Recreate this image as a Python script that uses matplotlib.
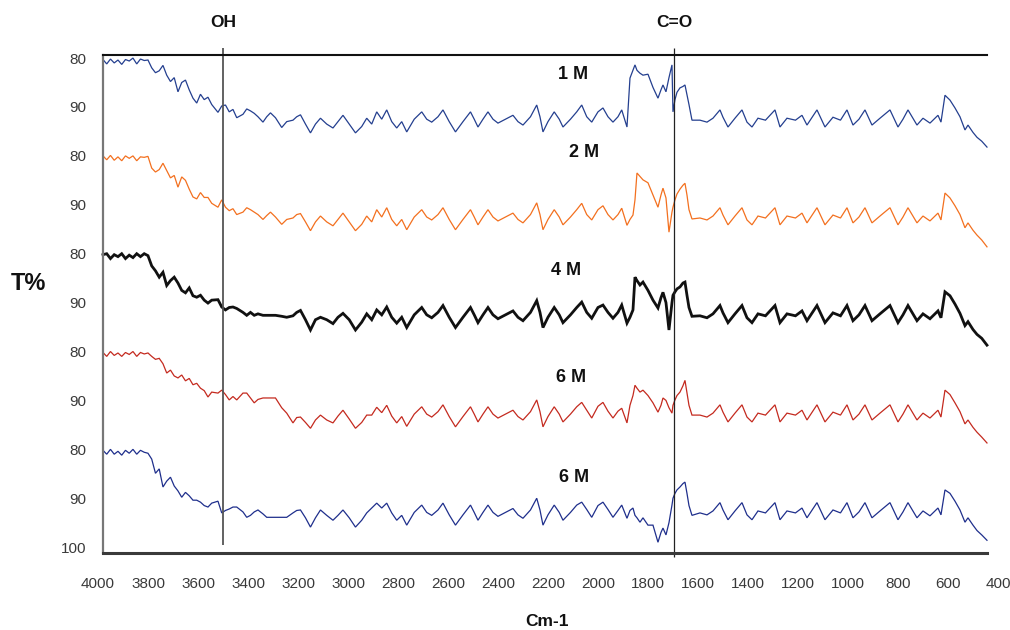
import matplotlib
matplotlib.use("Agg")
import matplotlib.pyplot as plt
import numpy as np

# ---------------- data ----------------
wavenumber = [
    3980, 3965, 3950, 3935, 3920, 3905, 3890, 3875, 3860, 3845,
    3830, 3815, 3800, 3785, 3770, 3755, 3740, 3725, 3710, 3695,
    3680, 3665, 3650, 3635, 3620, 3605, 3590, 3575, 3560, 3545,
    3520, 3505, 3490, 3475, 3460, 3445, 3420, 3405, 3390, 3375,
    3360, 3340, 3325, 3310, 3290, 3265, 3245, 3220, 3205, 3190,
    3170, 3150, 3130, 3110, 3085, 3060, 3040, 3020, 2995, 2970,
    2945, 2925, 2905, 2885, 2865, 2845, 2825, 2805, 2785, 2765,
    2735, 2705, 2685, 2665, 2640, 2620, 2595, 2570, 2540, 2510,
    2495, 2480, 2460, 2440, 2420, 2400, 2370, 2340, 2320, 2300,
    2270, 2245, 2232, 2220, 2200, 2175, 2155, 2140, 2110, 2085,
    2065, 2045, 2025, 2000, 1980, 1960, 1940, 1920, 1905, 1884,
    1872, 1860, 1852, 1844, 1832, 1820, 1800, 1780, 1760, 1748,
    1740, 1728, 1716, 1704, 1700, 1692, 1684, 1672, 1660, 1652,
    1644, 1636, 1624, 1592, 1564, 1540, 1512, 1500, 1480, 1452,
    1424, 1404, 1384, 1360, 1330, 1292, 1272, 1244, 1210, 1184,
    1164, 1124, 1092, 1060, 1030, 1004, 980, 956, 932, 904,
    872, 832, 800, 780, 760, 724, 700, 672, 640, 628,
    612, 592, 572, 552, 532, 520, 500, 484, 465, 444,
]

t_1M = [
    80.3, 81.2, 80.2, 81.0, 80.4, 81.3, 80.3, 80.6, 80.0, 81.2,
    80.2, 80.5, 80.4, 82.0, 83.0, 82.6, 81.5, 83.5, 84.8, 84.0,
    86.9, 85.0, 84.5, 86.5, 88.2, 89.2, 87.4, 88.5, 88.0, 89.5,
    91.1, 89.8, 89.6, 91.0, 90.5, 92.2, 91.5, 90.4, 90.8, 91.3,
    92.0, 93.1, 92.0, 91.2, 92.2, 94.2, 93.0, 92.7, 92.0, 91.6,
    93.5, 95.3, 93.5, 92.3, 93.5, 94.3, 93.0, 91.7, 93.5, 95.3,
    94.0, 92.3, 93.5, 91.0, 92.5, 90.6, 93.0, 94.3, 93.0, 95.1,
    92.5, 91.0, 92.5, 93.1, 92.0, 90.6, 93.0, 95.1, 93.0, 91.0,
    92.5, 94.1, 92.5, 91.0, 92.5, 93.3, 92.5, 91.7, 93.0, 93.7,
    92.0, 89.6, 92.0, 95.1, 93.0, 91.0, 92.5, 94.1, 92.5, 91.0,
    89.6, 92.0, 93.1, 91.0, 90.2, 92.0, 93.1, 92.0, 90.6, 94.1,
    84.1, 82.5, 81.4, 82.5, 83.1, 83.5, 83.3, 86.0, 88.2, 86.5,
    85.5, 86.9, 84.0, 81.4, 91.0, 88.5, 87.0, 86.1, 85.8, 85.5,
    87.5, 89.5, 92.7, 92.7, 93.1, 92.3, 90.6, 92.1, 94.1, 92.3,
    90.6, 93.1, 94.1, 92.3, 92.7, 90.6, 94.1, 92.3, 92.7, 91.7,
    93.7, 90.6, 94.1, 92.1, 92.7, 90.6, 93.7, 92.5, 90.6, 93.7,
    92.3, 90.6, 94.1, 92.5, 90.6, 93.7, 92.3, 93.3, 91.7, 93.1,
    87.6, 88.6, 90.2, 92.0, 94.7, 93.7, 95.2, 96.2, 97.0, 98.2,
]

t_2M = [
    80.0, 80.8, 79.9, 80.9, 80.2, 81.0, 80.0, 80.5, 80.0, 81.0,
    80.2, 80.3, 80.1, 82.5, 83.3, 82.8, 81.5, 83.0, 84.5, 84.0,
    86.4, 84.3, 85.0, 86.8, 88.4, 88.8, 87.5, 88.5, 88.5, 89.7,
    90.5, 89.0, 90.5, 91.2, 90.8, 92.0, 91.5, 90.6, 91.0, 91.5,
    92.0, 93.0, 92.2, 91.5, 92.5, 94.0, 93.0, 92.7, 92.0, 91.8,
    93.5, 95.3, 93.5, 92.3, 93.5, 94.3, 93.0, 91.7, 93.5, 95.3,
    94.0, 92.3, 93.5, 91.0, 92.5, 90.6, 93.0, 94.3, 93.0, 95.1,
    92.5, 91.0, 92.5, 93.1, 92.0, 90.6, 93.0, 95.1, 93.0, 91.0,
    92.5, 94.1, 92.5, 91.0, 92.5, 93.3, 92.5, 91.7, 93.0, 93.7,
    92.0, 89.6, 92.0, 95.1, 93.0, 91.0, 92.5, 94.1, 92.5, 91.0,
    89.7, 92.0, 93.1, 91.0, 90.2, 92.0, 93.1, 92.0, 90.7, 94.2,
    93.0, 92.1, 89.0, 83.5, 84.2, 84.9, 85.5, 88.0, 90.5, 88.0,
    86.6, 88.6, 95.6, 91.5, 90.5, 89.0, 87.8, 86.8, 86.0, 85.6,
    88.0, 91.0, 92.9, 92.7, 93.1, 92.3, 90.6, 92.1, 94.1, 92.3,
    90.6, 93.1, 94.1, 92.3, 92.7, 90.6, 94.1, 92.3, 92.7, 91.7,
    93.7, 90.6, 94.1, 92.1, 92.7, 90.6, 93.7, 92.5, 90.6, 93.7,
    92.3, 90.6, 94.1, 92.5, 90.6, 93.7, 92.3, 93.3, 91.7, 93.1,
    87.6, 88.6, 90.2, 92.0, 94.7, 93.7, 95.2, 96.2, 97.2, 98.6,
]

t_4M = [
    80.2, 80.0, 81.0, 80.2, 80.6, 80.0, 81.0, 80.3, 80.8, 80.0,
    80.6, 80.0, 80.4, 82.5, 83.5, 84.8, 83.8, 86.5, 85.5, 84.8,
    86.0, 87.5, 88.0, 87.0, 88.6, 88.9, 88.5, 89.5, 90.1, 89.5,
    89.4, 90.9, 91.5, 91.0, 90.9, 91.2, 92.0, 92.6, 92.0, 92.6,
    92.3, 92.6, 92.6, 92.6, 92.6, 92.8, 93.0, 92.7, 92.0, 91.6,
    93.5, 95.6, 93.5, 93.0, 93.5, 94.3, 93.0, 92.2, 93.5, 95.6,
    94.0, 92.3, 93.5, 91.5, 92.5, 90.9, 93.0, 94.2, 93.0, 95.1,
    92.5, 91.0, 92.5, 93.1, 92.0, 90.6, 93.0, 95.1, 93.0, 91.0,
    92.5, 94.1, 92.5, 91.0, 92.5, 93.3, 92.5, 91.7, 93.0, 93.7,
    92.0, 89.6, 92.0, 95.1, 93.0, 91.0, 92.5, 94.1, 92.5, 91.0,
    89.9, 92.0, 93.2, 91.0, 90.5, 92.0, 93.2, 92.0, 90.5, 94.2,
    93.0, 91.5, 84.8, 85.5, 86.4, 85.8, 87.5, 89.5, 91.1, 89.0,
    87.9, 90.0, 95.6, 90.0, 88.5, 87.8, 87.2, 86.8, 86.0, 85.8,
    88.5, 91.0, 92.8, 92.7, 93.1, 92.3, 90.6, 92.1, 94.1, 92.3,
    90.6, 93.1, 94.1, 92.3, 92.7, 90.6, 94.1, 92.3, 92.7, 91.7,
    93.7, 90.6, 94.1, 92.1, 92.7, 90.6, 93.7, 92.5, 90.6, 93.7,
    92.3, 90.6, 94.1, 92.5, 90.6, 93.7, 92.3, 93.3, 91.7, 93.1,
    87.8, 88.6, 90.3, 92.2, 94.7, 93.9, 95.5, 96.5, 97.3, 98.7,
]

t_6M_a = [
    80.2, 81.0, 80.0, 80.8, 80.3, 81.0, 80.2, 80.6, 80.0, 81.0,
    80.2, 80.5, 80.3, 81.0, 81.6, 81.4, 82.5, 84.4, 83.8, 85.0,
    85.4, 84.8, 86.0, 85.5, 86.8, 86.5, 87.5, 88.0, 89.3, 88.3,
    88.5, 87.9, 88.8, 89.9, 89.2, 89.9, 88.5, 88.5, 89.5, 90.5,
    89.8, 89.5, 89.5, 89.5, 89.5, 91.5, 92.6, 94.6, 93.5, 93.4,
    94.5, 95.7, 94.0, 93.0, 94.0, 94.6, 93.2, 92.0, 93.8, 95.7,
    94.5, 93.0, 93.0, 91.4, 92.5, 91.0, 93.2, 94.6, 93.3, 95.3,
    92.8, 91.3, 92.8, 93.4, 92.3, 90.9, 93.3, 95.4, 93.3, 91.3,
    92.8, 94.4, 92.8, 91.3, 92.8, 93.6, 92.8, 92.0, 93.3, 94.0,
    92.3, 89.9, 92.3, 95.4, 93.3, 91.3, 92.8, 94.4, 92.8, 91.3,
    90.4, 92.0, 93.6, 91.2, 90.4, 92.2, 93.6, 92.2, 91.6, 94.6,
    91.0, 89.0, 86.9, 87.5, 88.3, 87.9, 89.0, 90.5, 92.4, 91.0,
    89.5, 90.0, 91.5, 92.6, 91.0, 89.9, 89.0, 88.3, 87.0, 85.9,
    88.5, 91.0, 93.0, 93.0, 93.4, 92.6, 90.9, 92.4, 94.4, 92.6,
    90.9, 93.4, 94.4, 92.6, 93.0, 90.9, 94.4, 92.6, 93.0, 92.0,
    94.0, 90.9, 94.4, 92.4, 93.0, 90.9, 94.0, 92.8, 90.9, 94.0,
    92.6, 90.9, 94.4, 92.8, 90.9, 94.0, 92.6, 93.6, 92.0, 93.4,
    87.9, 88.8, 90.5, 92.3, 94.8, 94.0, 95.5, 96.5, 97.5, 98.7,
]

t_6M_b = [
    80.2, 81.0, 80.0, 81.0, 80.4, 81.2, 80.2, 80.8, 80.0, 81.0,
    80.2, 80.6, 80.8, 82.0, 84.9, 84.0, 87.7, 86.5, 85.7, 87.5,
    88.5, 89.8, 88.8, 89.5, 90.4, 90.4, 90.8, 91.5, 91.8, 91.0,
    90.6, 93.0, 92.5, 92.2, 91.8, 91.8, 92.8, 93.9, 93.5, 92.8,
    92.4, 93.2, 93.9, 93.9, 93.9, 93.9, 93.9, 93.0, 92.5, 92.4,
    94.0, 95.9, 94.0, 92.4, 93.5, 94.5, 93.5, 92.4, 94.0, 95.9,
    94.5, 93.0, 92.0, 91.0, 92.0, 91.0, 93.0, 94.5, 93.5, 95.5,
    92.9, 91.4, 92.9, 93.5, 92.4, 91.0, 93.4, 95.5, 93.4, 91.4,
    92.9, 94.5, 92.9, 91.4, 92.9, 93.7, 92.9, 92.1, 93.4, 94.1,
    92.4, 90.0, 92.4, 95.5, 93.4, 91.4, 92.9, 94.5, 92.9, 91.4,
    90.8, 92.3, 93.9, 91.5, 90.8, 92.3, 93.9, 92.5, 91.4, 94.1,
    92.5, 92.0, 93.5, 94.0, 94.9, 94.0, 95.5, 95.5, 99.0, 97.0,
    96.1, 97.5, 95.0, 91.4, 90.0, 89.0, 88.3, 87.7, 87.0, 86.7,
    89.0, 91.5, 93.5, 93.0, 93.4, 92.6, 90.9, 92.4, 94.4, 92.6,
    90.9, 93.4, 94.4, 92.6, 93.0, 90.9, 94.4, 92.6, 93.0, 92.0,
    94.0, 90.9, 94.4, 92.4, 93.0, 90.9, 94.0, 92.8, 90.9, 94.0,
    92.6, 90.9, 94.4, 92.8, 90.9, 94.0, 92.6, 93.6, 92.0, 93.4,
    88.3, 89.0, 90.6, 92.4, 94.9, 94.0, 95.5, 96.6, 97.5, 98.6,
]

series_values = [t_1M, t_2M, t_4M, t_6M_a, t_6M_b]
series_labels = ["1 M", "2 M", "4 M", "6 M", "6 M"]
series_colors = ["#243f8f", "#f3701f", "#111111", "#c42a1f", "#1f2f8c"]
series_widths = [0.9, 0.9, 2.0, 0.9, 0.9]

y_tick_labels = ["80", "90", "80", "90", "80", "90", "80", "90", "80", "90", "100"]
x_ticks = list(range(4000, 399, -200))

band_positions = [3500, 1695]
band_labels = ["OH", "C=O"]

# ---------------- figure ----------------
for v in series_values:
    assert len(v) == len(wavenumber), len(v)

plt.rcParams["font.family"] = ["Liberation Sans", "DejaVu Sans"]

fig = plt.figure(figsize=(10.1, 6.3), dpi=100)
ax = fig.add_axes([0.0970, 0.1222, 0.8911, 0.7903])
ax.set_xlim(4000, 400)
ax.set_ylim(10.12, -0.06)

# each spectrum occupies two "80 -> 90" bands of the stacked axis
for k, (vals, col, lw) in enumerate(zip(series_values, series_colors, series_widths)):
    y = 2 * k + (np.asarray(vals) - 80.0) / 10.0
    ax.plot(wavenumber, y, color=col, lw=lw, solid_joinstyle="miter")

# series labels
label_pos = [(2100, 0.33), (2056, 1.94), (2128, 4.34), (2108, 6.54), (2096, 8.57)]
for (lx, ly), txt in zip(label_pos, series_labels):
    ax.text(lx, ly, txt, ha="center", va="center", fontsize=13,
            fontweight="bold", color="#111111")

# band marker lines
ax.vlines(band_positions[0], -0.2, 9.96, color="#555555", lw=1.3, clip_on=False)
ax.vlines(band_positions[1], -0.2, 10.2, color="#222222", lw=0.9, clip_on=False)
for bx, bl in zip(band_positions, band_labels):
    ax.text(bx, -0.72, bl, ha="center", va="center", fontsize=12.5,
            fontweight="bold", color="#111111", clip_on=False)

# axes frame
ax.spines["right"].set_visible(False)
ax.spines["left"].set_position(("data", 3980))
ax.spines["left"].set_color("#777777")
ax.spines["left"].set_linewidth(1.6)
ax.spines["bottom"].set_bounds(3980, 445)
ax.spines["bottom"].set_color("#3a3a3a")
ax.spines["bottom"].set_linewidth(2.2)
ax.spines["top"].set_bounds(3980, 445)
ax.spines["top"].set_color("#111111")
ax.spines["top"].set_linewidth(1.5)

ax.set_yticks(range(len(y_tick_labels)))
ax.set_yticklabels(y_tick_labels)
ax.set_xticks(x_ticks)
ax.set_xticklabels([str(t) for t in x_ticks])
ax.tick_params(axis="y", length=0, pad=12, labelsize=11, labelcolor="#3a3a3a")
ax.tick_params(axis="x", length=0, pad=17, labelsize=11, labelcolor="#3a3a3a")

fig.text(28 / 1010, 1 - 283 / 630, "T%", ha="center", va="center",
         fontsize=17, fontweight="bold", color="#111111")
fig.text(547 / 1010, 1 - 621 / 630, "Cm-1", ha="center", va="center",
         fontsize=12.5, fontweight="bold", color="#111111")

fig.savefig("out.png", dpi=100)
